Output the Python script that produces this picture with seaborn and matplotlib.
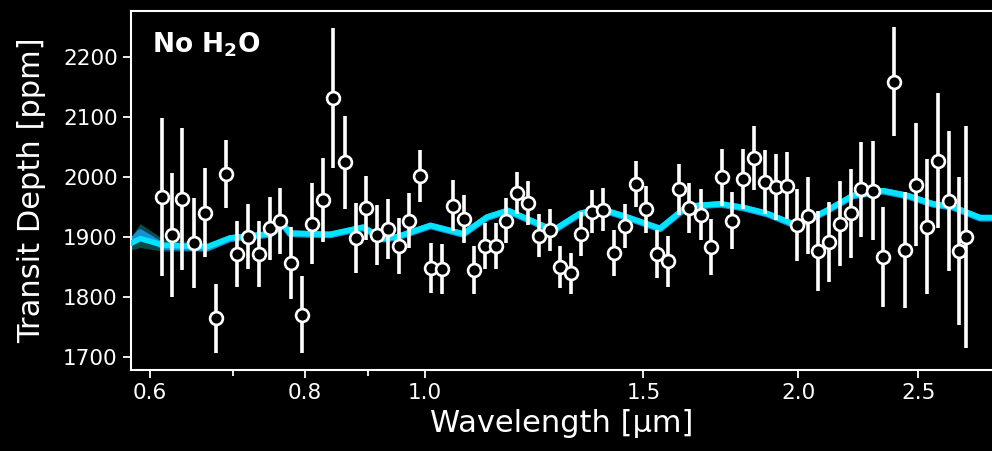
import numpy as np
import pandas as pd
import matplotlib
matplotlib.use("Agg")
import matplotlib.pyplot as plt
import matplotlib.ticker as mticker
import seaborn as sns

# observed spectrum
wavelength = [0.613, 0.625, 0.637, 0.651, 0.664, 0.678, 0.691, 0.705, 0.719, 0.734,
              0.749, 0.764, 0.779, 0.795, 0.811, 0.827, 0.843, 0.862, 0.879, 0.896,
              0.914, 0.933, 0.952, 0.971, 0.991, 1.011, 1.032, 1.053, 1.074, 1.096,
              1.117, 1.141, 1.163, 1.187, 1.211, 1.235, 1.260, 1.284, 1.310, 1.337,
              1.364, 1.391, 1.420, 1.449, 1.479, 1.507, 1.539, 1.569, 1.602, 1.634,
              1.669, 1.701, 1.735, 1.769, 1.806, 1.842, 1.880, 1.918, 1.957, 1.995,
              2.035, 2.076, 2.118, 2.160, 2.205, 2.249, 2.296, 2.342, 2.391, 2.439,
              2.488, 2.540, 2.591, 2.645, 2.694, 2.731]
depth = [1966, 1903, 1963, 1889, 1940, 1764, 2005, 1872, 1900, 1872,
         1914, 1927, 1856, 1770, 1922, 1962, 2131, 2024, 1898, 1948,
         1903, 1913, 1885, 1927, 2001, 1848, 1846, 1952, 1930, 1844,
         1885, 1885, 1927, 1973, 1956, 1902, 1912, 1849, 1839, 1905,
         1942, 1945, 1873, 1918, 1988, 1946, 1872, 1859, 1979, 1948,
         1937, 1883, 1999, 1927, 1997, 2031, 1991, 1983, 1985, 1920,
         1935, 1876, 1891, 1922, 1939, 1979, 1977, 1866, 2159, 1878,
         1987, 1917, 2027, 1960, 1876, 1899]
depth_err = [132, 103, 118, 75, 74, 58, 57, 55, 54, 55,
             53, 55, 60, 64, 68, 70, 117, 77, 58, 54,
             50, 50, 47, 46, 43, 42, 42, 42, 40, 40,
             38, 38, 38, 35, 37, 36, 35, 35, 34, 37,
             36, 36, 38, 37, 38, 39, 40, 42, 43, 42,
             43, 46, 48, 48, 50, 53, 53, 55, 56, 60,
             64, 67, 67, 71, 74, 79, 82, 84, 91, 97,
             102, 112, 113, 117, 124, 185]

# best-fit model (no H2O)
model_wl = [0.579, 0.589, 0.615, 0.667, 0.696, 0.750, 0.768, 0.778, 0.838, 0.891,
            0.925, 0.949, 1.010, 1.073, 1.122, 1.166, 1.269, 1.333, 1.384, 1.455,
            1.547, 1.627, 1.730, 1.805, 1.887, 1.995, 2.109, 2.214, 2.341, 2.448,
            2.569, 2.666, 2.803, 2.866]
model_depth = [1889, 1897, 1886, 1883, 1898, 1905, 1921, 1906, 1904, 1916,
               1897, 1900, 1919, 1905, 1933, 1944, 1911, 1939, 1947, 1933,
               1914, 1951, 1955, 1949, 1939, 1919, 1944, 1969, 1977, 1969,
               1955, 1950, 1932, 1932]
model_blue = [1890, 1907, 1884, 1881, 1897, 1904, 1920, 1905, 1903, 1915,
              1896, 1899, 1918, 1904, 1932, 1943, 1910, 1938, 1946, 1932,
              1913, 1950, 1954, 1948, 1938, 1918, 1943, 1968, 1976, 1968,
              1954, 1949, 1931, 1931]
band_lo = [1878, 1882, 1876, 1876, 1892, 1899, 1914, 1900, 1899, 1911,
           1892, 1895, 1914, 1900, 1928, 1939, 1906, 1934, 1942, 1928,
           1909, 1946, 1950, 1944, 1934, 1914, 1939, 1964, 1972, 1964,
           1950, 1945, 1927, 1927]
band_hi = [1900, 1922, 1896, 1890, 1904, 1911, 1927, 1912, 1909, 1921,
           1902, 1905, 1924, 1910, 1938, 1949, 1916, 1944, 1952, 1938,
           1919, 1956, 1960, 1954, 1944, 1924, 1949, 1974, 1982, 1974,
           1960, 1955, 1937, 1937]

obs = pd.DataFrame({"wl": wavelength, "depth": depth, "err": depth_err})
mod = pd.DataFrame({"wl": model_wl, "cyan": model_depth, "blue": model_blue,
                    "lo": band_lo, "hi": band_hi})

sns.set_theme(style="dark")
plt.rcParams.update({
    "figure.facecolor": "black", "axes.facecolor": "black",
    "axes.edgecolor": "white", "axes.labelcolor": "white",
    "xtick.color": "white", "ytick.color": "white", "text.color": "white",
})
plt.rcParams["font.family"] = ["DejaVu Sans"]

fig = plt.figure(figsize=(9.92, 4.51), dpi=100)
ax = fig.add_axes([0.132, 0.18, 0.868, 0.796])

ax.fill_between(mod["wl"], mod["lo"], mod["hi"], color="#0d6b6b", alpha=0.7,
                linewidth=0, zorder=1)
sns.lineplot(data=mod, x="wl", y="blue", ax=ax, color="#1b8fd6", linewidth=4.8,
             sort=False, estimator=None, zorder=2)
sns.lineplot(data=mod, x="wl", y="cyan", ax=ax, color="#00e5ff", linewidth=4,
             sort=False, estimator=None, zorder=3)

ax.errorbar(obs["wl"], obs["depth"], yerr=obs["err"], fmt="none",
            ecolor="white", elinewidth=2.6, capsize=0, zorder=4)
sns.scatterplot(data=obs, x="wl", y="depth", ax=ax, s=85, marker="o",
                facecolor="black", edgecolor="white", linewidth=1.9, zorder=5)

ax.set_xscale("log")
ax.set_xlim(0.579, 2.866)
ax.set_ylim(1678, 2277)
ax.xaxis.set_major_locator(mticker.FixedLocator([0.6, 0.8, 1.0, 1.5, 2.0, 2.5]))
ax.xaxis.set_major_formatter(mticker.FixedFormatter(["0.6", "0.8", "1.0", "1.5", "2.0", "2.5"]))
ax.xaxis.set_minor_locator(mticker.FixedLocator([0.7, 0.9]))
ax.xaxis.set_minor_formatter(mticker.NullFormatter())
ax.set_yticks([1700, 1800, 1900, 2000, 2100, 2200])

ax.tick_params(axis="both", which="major", direction="out", length=6, width=1.3,
               labelsize=15.5, colors="white", bottom=True, left=True)
ax.tick_params(axis="x", which="minor", direction="out", length=4, width=1.3,
               bottom=True)
for side in ["left", "bottom", "top"]:
    ax.spines[side].set_color("white")
    ax.spines[side].set_linewidth(1.5)
ax.spines["right"].set_visible(False)
ax.grid(False)

ax.set_xlabel("Wavelength [µm]", fontsize=22, labelpad=4)
ax.set_ylabel("Transit Depth [ppm]", fontsize=22, labelpad=12)

ax.text(0.024, 0.905, r"No H$_\mathbf{2}$O", transform=ax.transAxes,
        fontsize=19, fontweight="bold", color="white", va="center", ha="left")

fig.savefig("out.png", dpi=100, facecolor="black")
